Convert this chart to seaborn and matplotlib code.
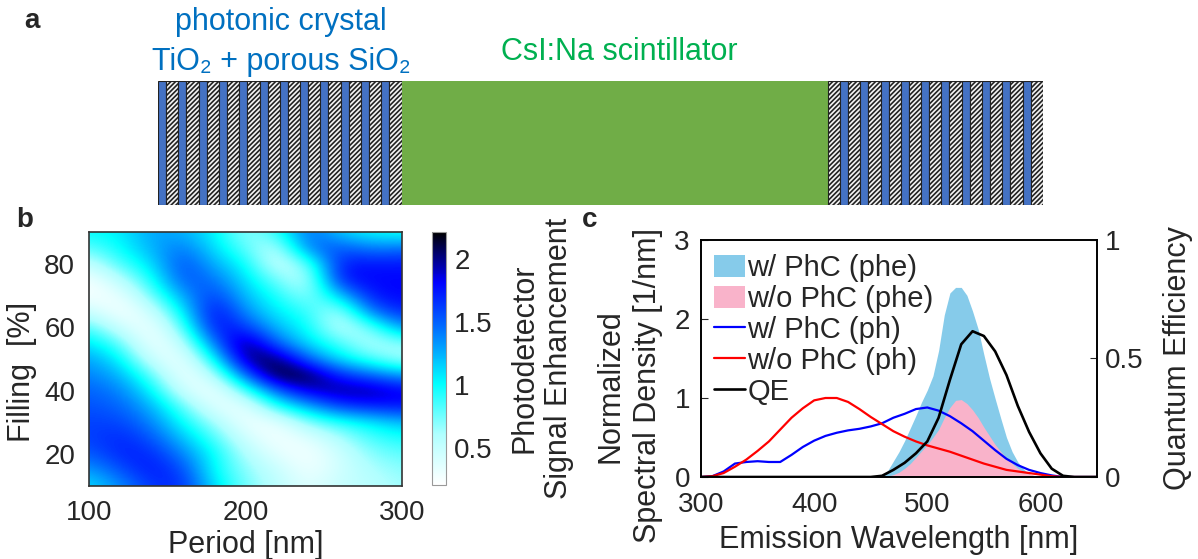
import numpy as np
import seaborn as sns
import matplotlib.pyplot as plt
from matplotlib.colors import LinearSegmentedColormap

# ---- panel a: layer stack (arbitrary thickness units) ----
tio2_thk = 8.0
sio2_thk = 12.3
scint_thk = 426.0
n_pairs_left = 12
n_pairs_right = 10

# ---- panel b: signal enhancement map ----
period = [100, 120, 140, 160, 180, 200, 220, 240, 260, 280, 300]
filling = [90, 85, 80, 75, 70, 65, 60, 55, 50, 45, 40, 35, 30, 25, 20, 15, 10]
# one list per period, values from filling 90 down to 10
enh_cols = [
    [1.0, 0.8, 0.5, 0.25, 0.25, 0.5, 0.85, 1.1, 1.3, 1.4, 1.5, 1.55, 1.6, 1.6, 1.5, 1.3, 1.1],
    [1.05, 1.0, 0.85, 0.55, 0.3, 0.22, 0.45, 0.8, 1.05, 1.25, 1.4, 1.5, 1.6, 1.7, 1.7, 1.55, 1.35],
    [1.3, 1.25, 1.1, 0.95, 0.75, 0.45, 0.25, 0.25, 0.45, 0.8, 1.05, 1.25, 1.4, 1.55, 1.7, 1.75, 1.65],
    [1.25, 1.45, 1.6, 1.55, 1.3, 1.05, 0.8, 0.5, 0.28, 0.25, 0.45, 0.8, 1.0, 1.2, 1.4, 1.6, 1.7],
    [1.05, 1.1, 1.25, 1.45, 1.65, 1.85, 1.8, 1.45, 1.0, 0.55, 0.25, 0.35, 0.65, 0.85, 1.0, 1.0, 1.1],
    [0.65, 0.8, 1.0, 1.1, 1.2, 1.35, 1.65, 2.1, 2.05, 1.5, 0.8, 0.3, 0.28, 0.45, 0.6, 0.7, 0.75],
    [0.9, 0.5, 0.45, 0.75, 0.95, 1.05, 1.2, 1.5, 2.1, 2.2, 1.5, 0.9, 0.3, 0.25, 0.35, 0.5, 0.55],
    [1.5, 1.45, 0.75, 0.5, 0.65, 0.9, 1.0, 1.1, 1.5, 2.15, 1.9, 1.25, 0.7, 0.35, 0.25, 0.28, 0.35],
    [1.15, 1.55, 1.75, 1.75, 1.15, 0.55, 0.5, 0.85, 1.1, 1.7, 2.0, 1.6, 0.9, 0.6, 0.45, 0.45, 0.5],
    [1.0, 1.4, 1.75, 1.8, 1.75, 1.45, 0.75, 0.55, 0.85, 1.5, 2.0, 1.7, 1.05, 0.85, 0.7, 0.6, 0.55],
    [0.95, 1.45, 1.75, 1.8, 1.8, 1.7, 1.35, 0.7, 0.6, 1.3, 1.85, 1.75, 1.2, 0.95, 0.8, 0.7, 0.65],
]

# ---- panel c: spectra ----
wl = list(range(300, 660, 10))
ph_wo = [0.0, 0.01, 0.05, 0.13, 0.22, 0.33, 0.45, 0.6, 0.75, 0.87, 0.97, 1.0,
         1.0, 0.95, 0.86, 0.76, 0.67, 0.58, 0.51, 0.45, 0.40, 0.36, 0.32, 0.27,
         0.22, 0.17, 0.13, 0.09, 0.07, 0.05, 0.03, 0.01, 0.0, 0.0, 0.0, 0.0]
ph_w = [0.0, 0.01, 0.07, 0.17, 0.19, 0.2, 0.19, 0.19, 0.28, 0.38, 0.46, 0.52,
        0.56, 0.59, 0.61, 0.64, 0.68, 0.75, 0.80, 0.86, 0.88, 0.84, 0.77, 0.68,
        0.58, 0.46, 0.34, 0.23, 0.15, 0.09, 0.05, 0.02, 0.0, 0.0, 0.0, 0.0]
qe = [0, 0, 0, 0, 0, 0, 0, 0, 0, 0, 0, 0, 0, 0, 0, 0, 0.005, 0.03, 0.06, 0.1,
      0.15, 0.25, 0.41, 0.56, 0.615, 0.595, 0.53, 0.43, 0.3, 0.19, 0.1, 0.035,
      0.005, 0, 0, 0]
wl_f = list(range(455, 615, 5))
phe_w = [0.0, 0.01, 0.08, 0.2, 0.32, 0.46, 0.62, 0.78, 0.95, 1.1, 1.28, 1.6,
         2.05, 2.33, 2.4, 2.4, 2.3, 2.1, 1.87, 1.55, 1.25, 0.99, 0.74, 0.5,
         0.32, 0.19, 0.1, 0.04, 0.01, 0.0, 0.0, 0.0]
phe_wo = [0.0, 0.0, 0.01, 0.03, 0.06, 0.11, 0.17, 0.25, 0.33, 0.41, 0.5, 0.6,
          0.75, 0.88, 0.97, 0.98, 0.93, 0.85, 0.75, 0.63, 0.52, 0.41, 0.32,
          0.24, 0.17, 0.11, 0.07, 0.04, 0.02, 0.01, 0.0, 0.0]

sns.set_style('white')
plt.rcParams['font.family'] = ['Liberation Sans', 'DejaVu Sans']
plt.rcParams['hatch.linewidth'] = 1.2
tick_fs = 20
lab_fs = 22

W, H = 1198, 559
fig = plt.figure(figsize=(W / 100, H / 100), dpi=100)


def px_axes(x0, y0, x1, y1):
    return fig.add_axes([x0 / W, 1 - y1 / H, (x1 - x0) / W, (y1 - y0) / H])


# ===== panel a =====
axa = px_axes(158, 81, 1043, 205)
thk = []
kind = []
for i in range(n_pairs_left):
    thk += [tio2_thk, sio2_thk]
    kind += ['t', 's']
thk.append(scint_thk)
kind.append('c')
for i in range(n_pairs_right):
    thk += [sio2_thk, tio2_thk]
    kind += ['s', 't']
thk.append(sio2_thk)
kind.append('s')
lefts = np.concatenate([[0], np.cumsum(thk)[:-1]])
for x0, w, k in zip(lefts, thk, kind):
    if k == 't':
        axa.bar(x0, 1, width=w, align='edge', color='#4472C4', edgecolor='#222222', linewidth=0.8)
    elif k == 's':
        axa.bar(x0, 1, width=w, align='edge', color='#f4f4f4', edgecolor='#222222',
                hatch='///////', linewidth=0.8)
    else:
        axa.bar(x0, 1, width=w, align='edge', color='#70AD47', edgecolor='#70AD47', linewidth=0)
axa.set_xlim(0, sum(thk))
axa.set_ylim(0, 1)
axa.axis('off')

fig.text(281 / W, 1 - 22 / H, 'photonic crystal', color='#0070C0', fontsize=22,
         ha='center', va='center')
fig.text(281 / W, 1 - 62 / H, 'TiO\u2082 + porous SiO\u2082', color='#0070C0', fontsize=22,
         ha='center', va='center')
fig.text(619 / W, 1 - 52 / H, 'CsI:Na scintillator', color='#00B050', fontsize=22,
         ha='center', va='center')
fig.text(24 / W, 1 - 21 / H, 'a', fontsize=20, fontweight='bold', ha='left', va='center')
fig.text(16 / W, 1 - 220 / H, 'b', fontsize=20, fontweight='bold', ha='left', va='center')
fig.text(582 / W, 1 - 220 / H, 'c', fontsize=20, fontweight='bold', ha='left', va='center')

# ===== panel b =====
cmap = LinearSegmentedColormap.from_list(
    'enh', [(0.0, '#ffffff'), (0.2, '#b0ffff'), (0.4, '#00ffff'),
            (0.62, '#0070ff'), (0.8, '#0000ff'), (0.92, '#00006a'), (1.0, '#000000')])
grid = np.array(enh_cols).T[::-1]  # rows from low to high filling
axb = px_axes(89, 232, 402, 486)
im = axb.imshow(grid, extent=[90, 310, 7.5, 92.5], origin='lower', cmap=cmap,
                vmin=0.21, vmax=2.21, interpolation='bicubic', aspect='auto')
axb.set_xlim(100, 300)
axb.set_ylim(10, 90)
axb.set_xticks([100, 200, 300])
axb.set_yticks([20, 40, 60, 80])
axb.tick_params(labelsize=tick_fs, direction='in', length=0, pad=10)
axb.set_xlabel('Period [nm]', fontsize=lab_fs, labelpad=3)
axb.set_ylabel('Filling  [%]', fontsize=lab_fs)
axb.yaxis.set_label_coords(-0.165, 0.45)
for s in axb.spines.values():
    s.set_color('#333333')
    s.set_linewidth(1.2)

cax = px_axes(432, 232, 446, 485)
cb = fig.colorbar(im, cax=cax, ticks=[0.5, 1, 1.5, 2])
cb.ax.set_yticklabels(['0.5', '1', '1.5', '2'])
cb.ax.tick_params(labelsize=tick_fs, direction='in', length=3, color='#888888', pad=6)
cb.outline.set_edgecolor('#999999')
cb.set_label('Photodetector\nSignal Enhancement', fontsize=lab_fs, labelpad=12)

# ===== panel c =====
axc = px_axes(701, 240, 1097, 477)
axc.fill_between(wl_f, phe_w, color='#86CBEA', linewidth=0, label='w/ PhC (phe)')
axc.fill_between(wl_f, phe_wo, color='#F9B3CA', linewidth=0, label='w/o PhC (phe)')
sns.lineplot(x=wl, y=ph_w, ax=axc, color='#0000ff', linewidth=1.6, label='w/ PhC (ph)')
sns.lineplot(x=wl, y=ph_wo, ax=axc, color='#ff0000', linewidth=1.6, label='w/o PhC (ph)')
axc.set_xlim(300, 650)
axc.set_ylim(0, 3)
axc.set_xticks([300, 400, 500, 600])
axc.set_yticks([0, 1, 2, 3])
axc.tick_params(axis='x', labelsize=tick_fs, direction='in', length=5, pad=11)
axc.tick_params(axis='y', labelsize=tick_fs, direction='in', length=5, pad=8)
axc.set_xlabel('Emission Wavelength [nm]', fontsize=lab_fs, labelpad=5)
axc.set_ylabel('Normalized\nSpectral Density [1/nm]', fontsize=lab_fs, linespacing=1.35)
axc.yaxis.set_label_coords(-0.095, 0.385)

axq = axc.twinx()
sns.lineplot(x=wl, y=qe, ax=axq, color='black', linewidth=1.9, label='QE')
axq.set_ylim(0, 1)
axq.set_yticks([0, 0.5, 1])
axq.set_yticklabels(['0', '0.5', '1'])
axq.tick_params(labelsize=tick_fs, direction='in', length=5, pad=6)
axq.set_ylabel('Quantum Efficiency', fontsize=lab_fs, labelpad=14)
for a in (axc, axq):
    for s in a.spines.values():
        s.set_color('black')
        s.set_linewidth(1.2)

h1, l1 = axc.get_legend_handles_labels()
h2, l2 = axq.get_legend_handles_labels()
if axq.get_legend():
    axq.get_legend().remove()
if axc.get_legend():
    axc.get_legend().remove()
axq.legend(h1 + h2, l1 + l2, loc='upper left', bbox_to_anchor=(13 / 396, 0.94),
           frameon=False, fontsize=21, handlelength=1.05, handleheight=0.8,
           handletextpad=0.1, labelspacing=0.1, borderpad=0, borderaxespad=0)

fig.savefig('out.png', dpi=100)
